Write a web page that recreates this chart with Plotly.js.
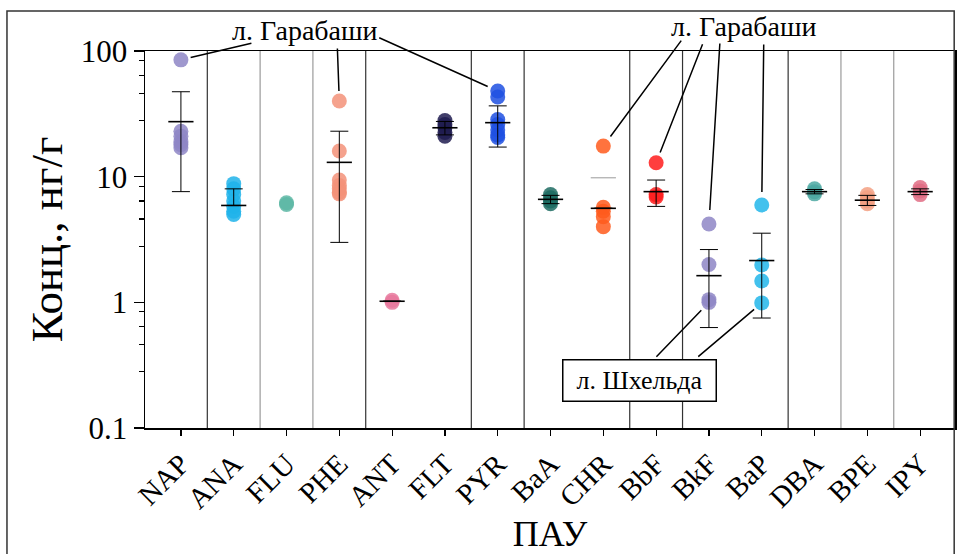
<!DOCTYPE html>
<html>
<head>
<meta charset="utf-8">
<script src="https://cdn.plot.ly/plotly-3.0.1.min.js"></script>
<style>html,body{margin:0;padding:0;background:#fff;}#chart{width:957px;height:554px;}</style>
</head>
<body>
<div id="chart"></div>
<script>
// ---- data ----
const categories = ['NAP','ANA','FLU','PHE','ANT','FLT','PYR','BaA','CHR','BbF','BkF','BaP','DBA','BPE','IPY'];
const NAP = [85, 23, 21, 19, 18, 17];
const ANA = [8.8, 8.0, 7.2, 6.4, 5.8, 5.3, 5.0];
const FLU = [6.0, 6.2];
const PHE = [40, 16, 9.4, 8.5, 8.0, 7.5, 7.3];
const ANT = [1.0, 1.04];
const FLT = [28, 26, 24.5, 22.5, 21];
const PYR = [48, 43, 28.5, 26, 23.5, 21.5, 20.5];
const BaA = [7.2, 6.8, 6.4, 6.1];
const CHR = [17.5, 5.7, 5.3, 4.8, 4.0];
const BbF = [12.9, 7.2, 6.9];
const BkF = [4.2, 2.0, 1.05, 1.0];
const BaP = [5.95, 1.98, 1.48, 0.99];
const DBA = [8.0, 7.6, 7.3];
const BPE = [7.2, 6.8, 6.4, 6.1];
const IPY = [8.2, 7.7, 7.2];
const seriesValues = [NAP, ANA, FLU, PHE, ANT, FLT, PYR, BaA, CHR, BbF, BkF, BaP, DBA, BPE, IPY];
const means   = [27.4, 5.9, null, 13.0, 1.02, 24.5, 26.9, 6.6, 5.6, 7.6, 1.63, 2.15, 7.6, 6.5, 7.6];
const sdPlus  = [20.0, 2.1, 0, 10.0, 0, 3.0, 9.7, 0.5, 0, 1.8, 1.0, 1.4, 0.3, 0.6, 0.4];
const sdMinus = [19.8, 0, 0, 10.0, 0, 3.0, 9.7, 0.5, 0, 1.8, 1.0, 1.4, 0.3, 0.6, 0.4];
const grayMarks = [null, null, null, null, null, null, null, null, 9.8, null, null, null, null, null, null];
const colors = ['#8e86c6','#1fb3ea','#5db7a4','#f39279','#e8789c','#201c50','#1f50e2','#1d6b62','#ff5a1c','#ff1c1c','#8e86c6','#22b6ea','#4ca8a2','#f3a082','#e06c84'];
const yTickVals = [0.1, 1, 10, 100];
const yTickText = ['0.1', '1', '10', '100'];
const minorMult = [2.8, 4.6, 6.4, 8.4];

// ---- traces ----
const traces = [];
seriesValues.forEach((vals, i) => {
  traces.push({
    type: 'scatter', mode: 'markers',
    x: vals.map(() => categories[i]), y: vals,
    marker: {size: 15, color: colors[i], opacity: 0.85, line: {width: 0}},
    hoverinfo: 'x+y', showlegend: false
  });
});
traces.push({
  type: 'scatter', mode: 'markers', x: categories, y: means,
  marker: {symbol: 'line-ew', size: 18, line: {width: 1.6, color: '#000'}},
  error_y: {type: 'data', symmetric: false, array: sdPlus, arrayminus: sdMinus, color: '#000', thickness: 1, width: 9},
  showlegend: false
});
traces.push({
  type: 'scatter', mode: 'markers', x: categories, y: grayMarks,
  marker: {symbol: 'line-ew', size: 18, line: {width: 1.2, color: '#aaa'}},
  showlegend: false
});

const minorVals = [];
[0.1, 1, 10].forEach(d => minorMult.forEach(m => minorVals.push(d * m)));

// separators between category groups
const sepBlack = [0.5, 3.5, 5.5, 6.5, 8.5, 9.5, 11.5];
const sepGray = [1.5, 2.5, 12.5, 13.5];
const shapes = [];
sepBlack.forEach(s => shapes.push({type: 'line', xref: 'x', yref: 'paper', x0: s, x1: s, y0: 0, y1: 1, line: {color: '#333', width: 1.2}}));
sepGray.forEach(s => shapes.push({type: 'line', xref: 'x', yref: 'paper', x0: s, x1: s, y0: 0, y1: 1, line: {color: '#9a9a9a', width: 1.2}}));
shapes.push({type: 'rect', xref: 'paper', yref: 'paper', x0: -0.1704, x1: 0.999, y0: -0.6, y1: 1.106, line: {color: '#333', width: 1.5}, fillcolor: 'rgba(0,0,0,0)'});

const L = v => Math.log10(v);
const arrow = (ci, v, ax, ay, so) => ({x: ci, y: L(v), xref: 'x', yref: 'y', text: '', showarrow: true, arrowhead: 0, arrowwidth: 1.5, arrowcolor: '#000', ax: ax, ay: ay, standoff: so});
const serif = 'Liberation Serif, Times New Roman, serif';
const annotations = [
  {xref: 'paper', yref: 'paper', x: 0.1975, y: 1.0557, xanchor: 'center', yanchor: 'middle', text: 'л. Гарабаши', showarrow: false, font: {family: serif, size: 28, color: '#000'}},
  {xref: 'paper', yref: 'paper', x: 0.7395, y: 1.066, xanchor: 'center', yanchor: 'middle', text: 'л. Гарабаши', showarrow: false, font: {family: serif, size: 28, color: '#000'}},
  {xref: 'paper', yref: 'paper', x: 0.611, y: 0.127, xanchor: 'center', yanchor: 'middle', text: 'л. Шхельда', showarrow: false, font: {family: serif, size: 26, color: '#000'},
   bordercolor: '#000', borderwidth: 1.5, borderpad: 1, width: 150, height: 38, bgcolor: '#fff'},
  arrow(0, NAP[0], 72, -17, 10),
  arrow(3, PHE[0], -2, -54, 10),
  arrow(6, PYR[0], -120, -54, 11),
  arrow(8, CHR[0], 79, -107, 12),
  arrow(9, BbF[0], 47, -120, 11),
  arrow(10, BkF[0], 11, -182, 14),
  arrow(11, BaP[0], 2, -162, 13),
  arrow(10, BkF[3], -54, 56, 11),
  arrow(11, BaP[3], -65, 55, 10)
];

const layout = {
  width: 957, height: 554,
  margin: {l: 145, r: 2, t: 51, b: 126},
  paper_bgcolor: '#fff', plot_bgcolor: '#fff',
  font: {family: serif, color: '#000'},
  showlegend: false,
  xaxis: {
    type: 'category', categoryorder: 'array', categoryarray: categories,
    range: [-0.68, 14.66], showgrid: false, zeroline: false,
    showline: true, linecolor: '#000', linewidth: 1.5, mirror: true,
    ticks: 'outside', ticklen: 6, tickwidth: 1.2, tickcolor: '#000',
    tickangle: -45, tickfont: {family: serif, size: 29, color: '#000'},
    title: {text: 'ПАУ', font: {family: serif, size: 36, color: '#000'}, standoff: 18}
  },
  yaxis: {
    type: 'log', range: [-1, 2], showgrid: false, zeroline: false,
    showline: true, linecolor: '#000', linewidth: 1.5, mirror: true,
    tickmode: 'array', tickvals: yTickVals, ticktext: yTickText,
    ticks: 'outside', ticklen: 10, tickwidth: 1.5, tickcolor: '#000',
    tickfont: {family: serif, size: 31, color: '#000'},
    minor: {tickmode: 'array', tickvals: minorVals, ticks: 'outside', ticklen: 5, tickwidth: 1.2, tickcolor: '#000', showgrid: false},
    title: {text: 'Конц., нг/г', font: {family: serif, size: 45, color: '#000'}, standoff: 4}
  },
  shapes: shapes,
  annotations: annotations
};

Plotly.newPlot('chart', traces, layout, {displayModeBar: false, staticPlot: true});
</script>
</body>
</html>
